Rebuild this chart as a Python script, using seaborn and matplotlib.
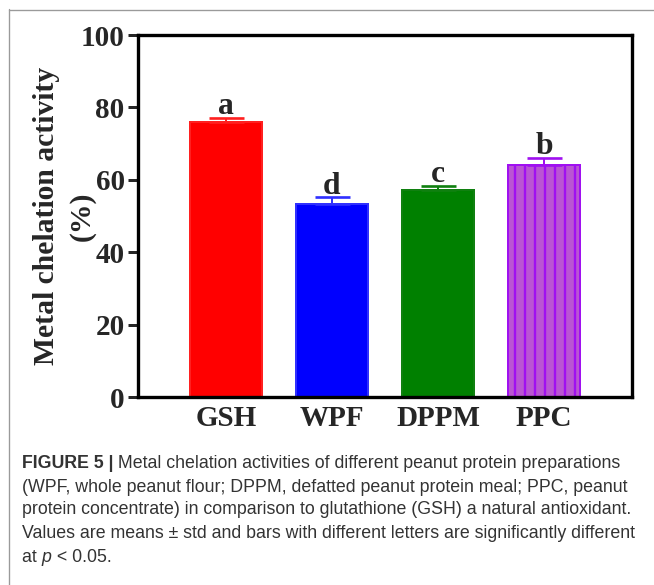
import matplotlib
matplotlib.use("Agg")
import matplotlib.pyplot as plt
import seaborn as sns
import pandas as pd
from matplotlib.lines import Line2D

# data
samples = ["GSH", "WPF", "DPPM", "PPC"]
activity = [76.0, 53.2, 57.2, 64.2]
std_dev = [1.1, 2.0, 1.2, 1.8]
letters = ["a", "d", "c", "b"]
fill_colors = ["#FF0000", "#0000FF", "#008000", "#BA55D3"]
edge_colors = ["#FF2020", "#3030FF", "#108010", "#A010F0"]

caption_lines = [
    [("FIGURE 5 |", "bold", "normal"), (" Metal chelation activities of different peanut protein preparations", "normal", "normal")],
    [("(WPF, whole peanut flour; DPPM, defatted peanut protein meal; PPC, peanut", "normal", "normal")],
    [("protein concentrate) in comparison to glutathione (GSH) a natural antioxidant.", "normal", "normal")],
    [("Values are means \u00b1 std and bars with different letters are significantly different", "normal", "normal")],
    [("at ", "normal", "normal"), ("p", "normal", "italic"), (" < 0.05.", "normal", "normal")],
]

df = pd.DataFrame({"sample": samples, "activity": activity, "std": std_dev})

sns.set_style("white")
plt.rcParams["font.family"] = ["Liberation Serif", "DejaVu Serif"]
plt.rcParams["hatch.linewidth"] = 1.4

DPI = 120
fig = plt.figure(figsize=(654 / DPI, 585 / DPI), dpi=DPI)
ax = fig.add_axes([138 / 654, 1 - 397 / 585, 494 / 654, 362 / 585])

sns.barplot(data=df, x="sample", y="activity", hue="sample", palette=fill_colors,
            errorbar=None, width=0.67, legend=False, ax=ax, saturation=1)

for i, bar in enumerate(ax.patches):
    bar.set_edgecolor(edge_colors[i])
    bar.set_linewidth(1.2)
    if samples[i] == "PPC":
        bar.set_hatch("||")

for i in range(len(samples)):
    ax.errorbar(i, activity[i], yerr=[[0], [std_dev[i]]], color=edge_colors[i],
                capsize=10.5, elinewidth=1.2, capthick=1.6, fmt="none", zorder=1)
    ax.text(i, activity[i] + std_dev[i] + 1.0, letters[i], ha="center", va="baseline",
            fontsize=19, fontweight="bold")

ax.set_xlim(-0.83, 3.83)
ax.set_ylim(0, 100)
ax.set_yticks([0, 20, 40, 60, 80, 100])
ax.set_xlabel("")
ax.set_ylabel("Metal chelation activity\n(%)", fontsize=17.8, fontweight="bold",
              linespacing=1.4, va="center")
ax.yaxis.set_label_coords(-0.15, 0.5)

for s in ax.spines.values():
    s.set_visible(True)
    s.set_linewidth(2.0)
    s.set_color("black")
    s.set_capstyle("projecting")

ax.tick_params(axis="y", direction="out", length=6, width=1.8, pad=2,
               labelsize=17.5, left=True)
ax.tick_params(axis="x", length=0, pad=5, labelsize=17.5)
for lbl in ax.get_xticklabels() + ax.get_yticklabels():
    lbl.set_fontweight("bold")

# frame around the figure panel
fig.add_artist(Line2D([8.5 / 654, 8.5 / 654], [0, 1 - 9 / 585], transform=fig.transFigure,
                      color="#9a9a9a", lw=0.8))
fig.add_artist(Line2D([8.5 / 654, 1], [1 - 9.5 / 585, 1 - 9.5 / 585], transform=fig.transFigure,
                      color="#9a9a9a", lw=0.8))

# caption, pieces placed one after another
renderer = fig.canvas.get_renderer()
cap_kw = dict(fontsize=10.65, color="#333333", family=["Liberation Sans", "DejaVu Sans"], va="center")
line_y = [463, 487, 510, 534, 557]
for parts, yy in zip(caption_lines, line_y):
    x = 22 / 654
    for txt, weight, style in parts:
        t = fig.text(x, 1 - yy / 585, txt, fontweight=weight, fontstyle=style, **cap_kw)
        x += t.get_window_extent(renderer).width / 654

fig.savefig("out.png", dpi=DPI)
